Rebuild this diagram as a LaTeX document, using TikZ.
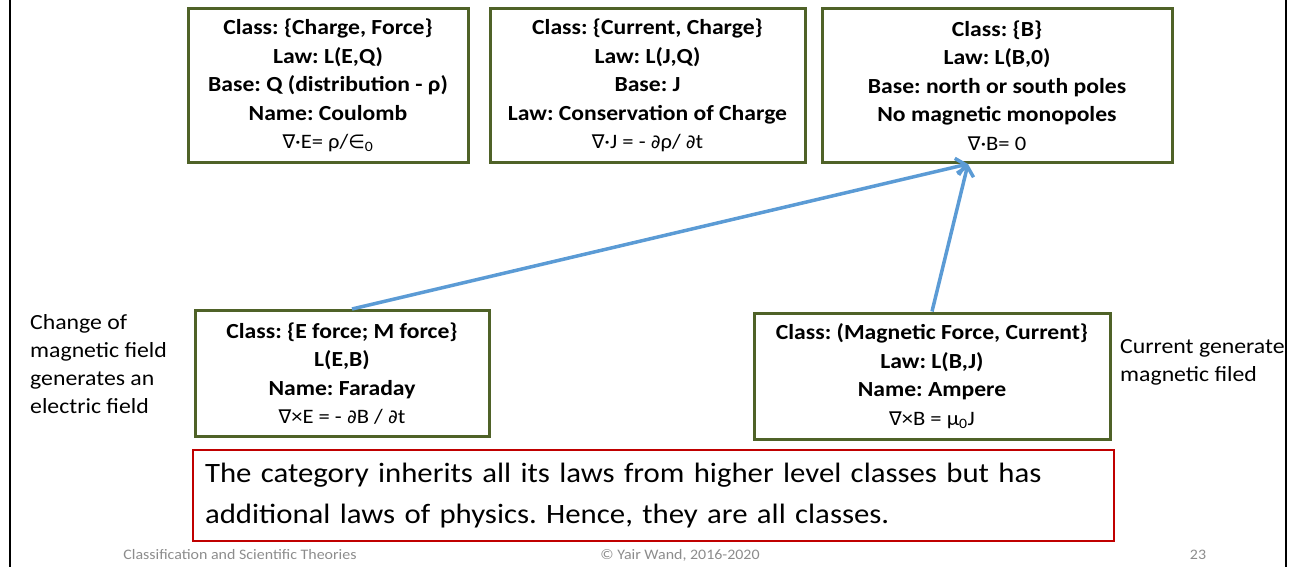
\documentclass[tikz,border=0pt]{standalone}
\usepackage{fontspec}
\setmainfont{Carlito}[FakeStretch=1.1]
\newfontfamily\symf{DejaVu Sans}
\usetikzlibrary{arrows.meta,positioning}
\definecolor{olive}{HTML}{4F6228}
\definecolor{alert}{HTML}{C00000}
\definecolor{link}{HTML}{5B9BD5}
\definecolor{foot}{HTML}{8C8C8C}
\frenchspacing
\tikzset{
  classbox/.style={draw=olive, line width=3pt, fill=white, align=center,
                   inner sep=0pt, font=\fontsize{21.5}{28.5}\selectfont\bfseries},
  notebox/.style={draw=alert, line width=2.5pt, fill=white, align=left,
                  inner xsep=12pt, inner ysep=0pt, minimum height=91pt,
                  font=\fontsize{28}{41}\selectfont},
  ar/.style={-{Straight Barb[length=9pt,width=17pt,line width=3.5pt]},
             line width=3.5pt, draw=link},
  side/.style={anchor=north west, align=left, inner sep=0pt,
               font=\fontsize{21.6}{28}\selectfont},
  foot/.style={font=\fontsize{14.5}{16}\selectfont, text=foot}
}
% formula line under the bold text
\newcommand\eqn[1]{\\{\fontsize{20.5}{20}\selectfont\mdseries #1}}
\newcommand\nab{{\symf\fontsize{19}{20}\selectfont ∇}}
\newcommand\prt{{\symf\fontsize{19}{20}\selectfont ∂}}

\begin{document}
\begin{tikzpicture}[x=1pt,y=-1pt]
  \useasboundingbox (0,0) rectangle (1296,567);
  \draw[line width=2pt] (10,0) -- (10,567);
  \draw[line width=2pt] (1286,0) -- (1286,567);

  % upper classes
  \node[classbox, minimum width=280pt, minimum height=154pt] (coul) at (328,85.5)
     {Class: \{Charge, Force\}\\Law: L(E,Q)\\Base: Q (distribution - ρ)\\Name: Coulomb
      \eqn{\nab·E= ρ/{\symf\fontsize{19}{20}\selectfont ∈}\textsubscript{0}}};
  \node[classbox, minimum width=315pt, minimum height=154pt] (cons) at (647.5,85.5)
     {Class: \{Current, Charge\}\\Law: L(J,Q)\\Base: J\\Law: Conservation of Charge
      \eqn{\nab·J = - \prt ρ/ \prt t}};
  \node[classbox, minimum width=350pt, minimum height=154pt] (mono) at (997,85.5)
     {Class: \{B\}\\Law: L(B,0)\\Base: north or south poles\\No magnetic monopoles
      \eqn{\nab·B= 0}};

  % lower classes
  \node[classbox, minimum width=294pt, minimum height=126pt] (fara) at (342,373.5)
     {Class: \{E force; M force\}\\L(E,B)\\Name: Faraday
      \eqn{\nab×E = - \prt B / \prt t}};
  \node[classbox, minimum width=356pt, minimum height=126pt] (ampe) at (932,376)
     {Class: (Magnetic Force, Current\}\\Law: L(B,J)\\Name: Ampere
      \eqn{\nab×B = μ\textsubscript{0}J}};

  \draw[ar] ([xshift=10pt]fara.north) -- ([xshift=-29pt]mono.south);
  \draw[ar] (ampe.north) -- ([xshift=-29pt]mono.south);

  \node[side] (chg) at (30,314) {Change of\\magnetic field\\generates an\\electric field};
  \node[side] (cur) at (1120,339) {Current generate\\magnetic filed};

  \node[notebox, text width=897pt] (note) at (653.5,495.5)
     {The category inherits all its laws from higher level classes but has\\
      additional laws of physics. Hence, they are all classes.};

  \node[foot] (f1) at (240,555) {Classification and Scientific Theories};
  \node[foot] (f2) at (680,555) {© Yair Wand, 2016-2020};
  \node[foot] (f3) at (1198,555) {23};
\end{tikzpicture}
\end{document}
